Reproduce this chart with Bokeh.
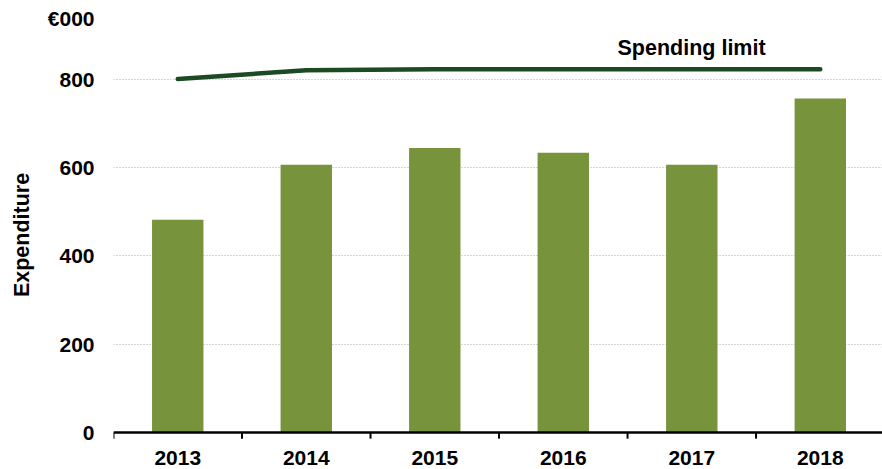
from bokeh.plotting import figure
from bokeh.models import Range1d, Label, FixedTicker, Span
from bokeh.core.properties import value
from bokeh.embed import file_html
from bokeh.resources import INLINE

years = ["2013", "2014", "2015", "2016", "2017", "2018"]
expenditure = [482, 607, 645, 634, 607, 757]
spending_limit = [801, 821, 823, 823, 823, 823]
y_ticks = [0, 200, 400, 600, 800]
unit_label = "€000"
y_title = "Expenditure"
line_label = "Spending limit"

FONT = "Liberation Sans"
BAR = "#77933C"
LINE = "#1C4A22"
GRID = "#ABABAB"

UNIT_Y = 938        # where the unit label sits (y data units, above the plot)
TICK_LEN = 14       # boundary tick length (y data units)
LABEL_Y = -57       # centre of the category labels (y data units)

# category centre positions derived from the category index
xpos = [i + 0.5 for i in range(len(years))]
bounds = list(range(len(years) + 1))

p = figure(
    x_range=Range1d(0, 5.984),
    y_range=Range1d(-83.9, 979),
    width=882, height=469,
    output_backend="svg", toolbar_location=None,
    x_axis_location=None,
    min_border_left=113, min_border_right=0, min_border_top=0, min_border_bottom=0,
    outline_line_color=None,
)

p.xgrid.grid_line_color = None
p.ygrid.ticker = FixedTicker(ticks=[t for t in y_ticks if t > 0])
p.ygrid.grid_line_color = GRID
p.ygrid.grid_line_dash = "1 2"
p.ygrid.grid_line_width = 1

p.vbar(x=xpos, top=expenditure, bottom=0, width=0.4, fill_color=BAR, line_color=None)
p.line(x=xpos, y=spending_limit, line_color=LINE, line_width=4.5,
       line_cap="round", line_join="round")

# category axis: line at zero, ticks at category boundaries, labels at centres
p.add_layout(Span(location=0, dimension="width", line_color="#000000", line_width=2.5))
p.segment(x0=bounds, x1=bounds, y0=[0] * len(bounds), y1=[-TICK_LEN] * len(bounds),
          line_color="#000000", line_width=2)
p.text(x=xpos, y=[LABEL_Y] * len(years), text=years,
       text_align="center", text_baseline="middle",
       text_font=value(FONT), text_font_style="bold", text_font_size="21px",
       text_color="#000000")

# value axis
p.yaxis.ticker = FixedTicker(ticks=y_ticks + [UNIT_Y])
p.yaxis.major_label_overrides = {UNIT_Y: unit_label}
p.yaxis.axis_line_color = None
p.yaxis.major_tick_line_color = None
p.yaxis.minor_tick_line_color = None
p.yaxis.major_label_standoff = 13
p.yaxis.major_label_text_font = FONT
p.yaxis.major_label_text_font_style = "bold"
p.yaxis.major_label_text_font_size = "21px"
p.yaxis.major_label_text_color = "#000000"
p.yaxis.axis_label = y_title
p.yaxis.axis_label_text_font = FONT
p.yaxis.axis_label_text_font_style = "bold"
p.yaxis.axis_label_text_font_size = "21.5px"
p.yaxis.axis_label_text_color = "#000000"
p.yaxis.axis_label_standoff = 11

p.add_layout(Label(x=504, y=872, x_units="screen", y_units="data", text=line_label,
                   text_align="left", text_baseline="middle", text_font=FONT,
                   text_font_style="bold", text_font_size="21.5px", text_color="#000000"))

open("out.html", "w").write(file_html(p, INLINE))
